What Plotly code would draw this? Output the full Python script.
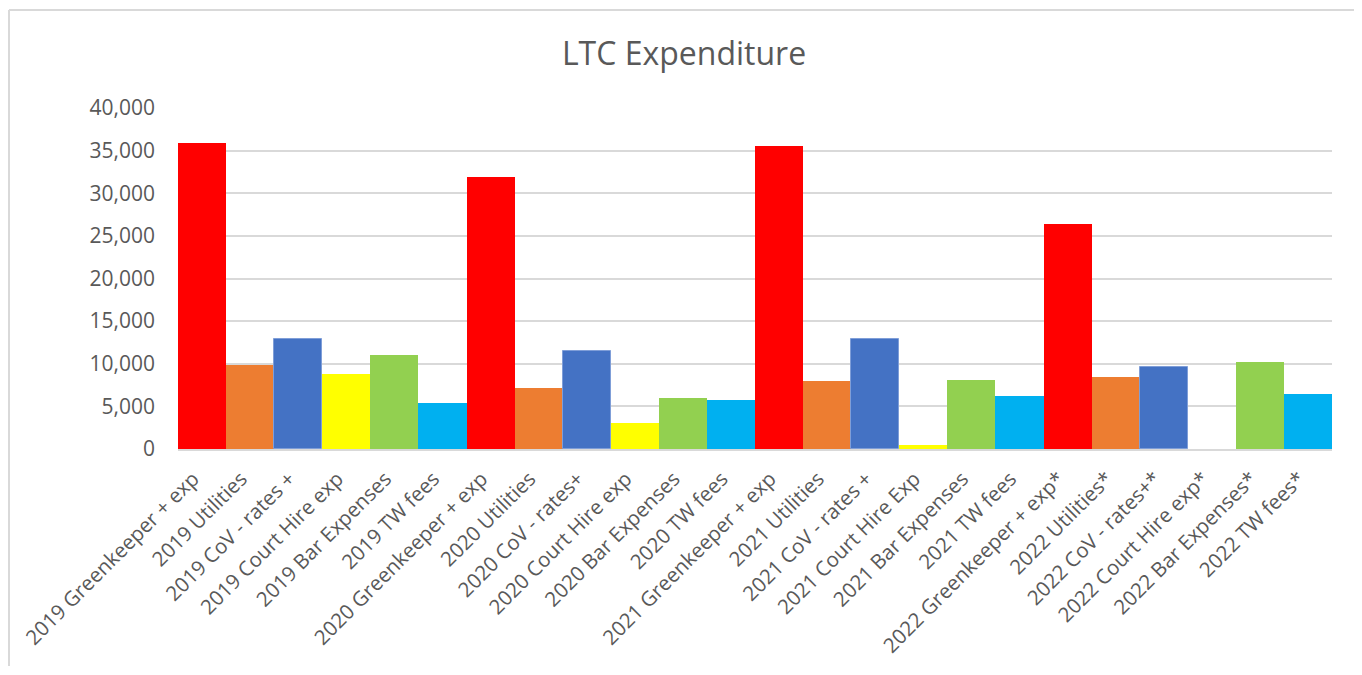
import plotly.graph_objects as go

categories = [
    "2019 Greenkeeper + exp", "2019 Utilities", "2019 CoV - rates +", "2019 Court Hire exp",
    "2019 Bar Expenses", "2019 TW fees",
    "2020 Greenkeeper + exp", "2020 Utilities", "2020 CoV - rates+", "2020 Court Hire exp",
    "2020 Bar Expenses", "2020 TW fees",
    "2021 Greenkeeper + exp", "2021 Utilities", "2021 CoV - rates +", "2021 Court Hire Exp",
    "2021 Bar Expenses", "2021 TW fees",
    "2022 Greenkeeper + exp*", "2022 Utilities*", "2022 CoV - rates+*", "2022 Court Hire exp*",
    "2022 Bar Expenses*", "2022 TW fees*",
]
values = [
    35900, 9890, 12900, 8830, 11060, 5430,
    31940, 7190, 11490, 3090, 6020, 5780,
    35580, 8010, 12900, 500, 8130, 6250,
    26430, 8480, 9650, 0, 10240, 6490,
]
item_colors = ["#FF0000", "#ED7D31", "#4472C4", "#FFFF00", "#92D050", "#00B0F0"]
item_outline_widths = [0, 0, 1, 0, 0, 0]

colors = [item_colors[i % 6] for i in range(len(categories))]
outline_widths = [item_outline_widths[i % 6] for i in range(len(categories))]

fig = go.Figure(go.Bar(
    x=categories, y=values,
    marker=dict(color=colors, line=dict(color="#7F9ED8", width=outline_widths)),
    hovertemplate="%{x}: %{y:,}<extra></extra>",
))

txt = "#595959"
border = "#D9D9D9"
# chart frame (paper coords relative to the plot area: 1154 x 341 px, origin at page 178,449)
fx0 = (9 - 178) / 1154
fx1 = (1360 - 178) / 1154
fy_top = (449 - 10) / 341
fy_bot = (449 - 666) / 341
frame = [
    dict(type="line", xref="paper", yref="paper", x0=fx0, x1=fx1, y0=fy_top, y1=fy_top,
         line=dict(color=border, width=2), layer="below"),
    dict(type="line", xref="paper", yref="paper", x0=fx0, x1=fx0, y0=fy_top, y1=fy_bot,
         line=dict(color=border, width=2), layer="below"),
    dict(type="line", xref="paper", yref="paper", x0=fx1, x1=fx1, y0=fy_top, y1=fy_bot,
         line=dict(color=border, width=2), layer="below"),
]

# page body adds an 8px offset; figure is sized/offset to compensate
fig.update_layout(
    width=1354, height=667,
    margin=dict(l=170, r=30, t=100, b=226, autoexpand=False),
    paper_bgcolor="white", plot_bgcolor="white",
    bargap=0,
    showlegend=False,
    font=dict(family="Open Sans", color=txt, size=21),
    title=dict(text="LTC Expenditure", x=(684 - 8) / 1354, xanchor="center", xref="container",
               y=1 - 46 / 667, yref="container", yanchor="middle",
               font=dict(family="Open Sans", size=32, color=txt)),
    xaxis=dict(tickangle=-45, showgrid=False, showline=True, linecolor=border,
               linewidth=1.5, ticks="", ticklabelstandoff=8, ticklabelshift=-9, automargin=False,
               tickfont=dict(size=20.5, color=txt)),
    yaxis=dict(range=[0, 40000], tickvals=[0, 5000, 10000, 15000, 20000, 25000, 30000, 35000, 40000],
               tickformat=",d", showgrid=True, gridcolor=border, gridwidth=1.5,
               zeroline=False, showline=False, ticks="", ticklabelstandoff=22, automargin=False,
               tickfont=dict(size=21, color=txt)),
    shapes=frame,
)

fig.write_html("out.html")
